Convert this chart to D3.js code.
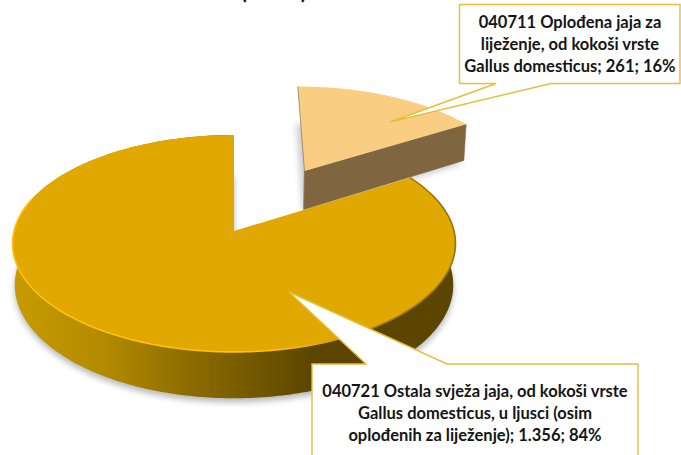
<!DOCTYPE html>
<html><head><meta charset="utf-8">
<style>html,body{margin:0;padding:0;background:#fff;overflow:hidden}svg{display:block}text{font-family:Lato,"Open Sans",sans-serif;font-weight:700;fill:#151515}</style>
<script src="https://cdnjs.cloudflare.com/ajax/libs/d3/7.8.5/d3.min.js"></script>
</head><body><svg id="c" width="681" height="455"></svg>
<script>
const categories = ["040711", "040721"];
const values = [261, 1356];
const explode = [0.685, 0];
const topColors = ["#F9CE82", "#E0A800"];
const labelA = ["040711 Oplođena jaja za", "liježenje, od kokoši vrste", "Gallus domesticus; 261; 16%"];
const labelB = ["040721 Ostala svježa jaja, od kokoši vrste", "Gallus domesticus, u ljusci (osim", "oplođenih za liježenje); 1.356; 84%"];
const titleTail = "(2021)";

const svg = d3.select("#c");
const defs = svg.append("defs");
const cx = 234, cy = 231, ax = 220, ay = 107, k = 0.115, depth = 41;

const blur = (id, s) => defs.append("filter").attr("id", id)
  .attr("x", "-20%").attr("y", "-20%").attr("width", "140%").attr("height", "140%")
  .append("feGaussianBlur").attr("stdDeviation", s);
blur("sh", 3); blur("b1", 0.7); blur("b0", 0.35);

const wall = defs.append("linearGradient").attr("id", "wall").attr("gradientUnits", "userSpaceOnUse")
  .attr("x1", 12).attr("x2", 456).attr("y1", 0).attr("y2", 0);
[[0, "#C89B00"], [0.2, "#B48B00"], [0.4, "#8C6C00"], [0.68, "#5B4500"], [1, "#5B4500"]]
  .forEach(s => wall.append("stop").attr("offset", s[0]).attr("stop-color", s[1]));
const rim = defs.append("linearGradient").attr("id", "rim").attr("gradientUnits", "userSpaceOnUse")
  .attr("x1", 12).attr("x2", 456).attr("y1", 0).attr("y2", 0);
[[0, "#FFC20A"], [0.62, "#FFC20A"], [0.72, "#D9A300"], [0.8, "#A88000"], [1, "#94720A"]]
  .forEach(s => rim.append("stop").attr("offset", s[0]).attr("stop-color", s[1]));

const arcs = d3.pie().sort(null).value(d => d)(values);
const line = d3.line();

// perspective projection of a unit-circle point on the pie's top or bottom plane
function P(u, v, low, dx) {
  const w = 1 + k * v;
  let X = ax * u / w, Y = -ay * v / w;
  if (low) { X *= 0.99; Y += depth / w; }
  return [cx + X + (dx || 0), cy + Y];
}
function rimPts(a, e, low, dx) {
  const mid = (a.startAngle + a.endAngle) / 2;
  const ou = e * Math.sin(mid), ov = e * Math.cos(mid);
  const n = Math.ceil((a.endAngle - a.startAngle) * 60);
  return d3.range(n + 1).map(i => {
    const t = a.startAngle + (a.endAngle - a.startAngle) * i / n;
    return P(ou + Math.sin(t), ov + Math.cos(t), low, dx);
  });
}
function apex(a, e, low, dx) {
  const mid = (a.startAngle + a.endAngle) / 2;
  return P(e * Math.sin(mid), e * Math.cos(mid), low, dx);
}
const closed = pts => line(pts) + "Z";

// title tail, cut by the top of the picture
svg.append("text").attr("x", 274).attr("y", -1.5).attr("text-anchor", "middle")
  .attr("font-size", 22).attr("letter-spacing", 0.6).text(titleTail);

// small exploded slice
const aS = arcs[0], eS = explode[0], dS = 2;
const sTop = rimPts(aS, eS, false, dS), sLow = rimPts(aS, eS, true, dS);
const sApex = apex(aS, eS, false, dS), sApexL = apex(aS, eS, true, dS);
svg.append("path").attr("d", closed([sApexL, ...sLow])).attr("transform", "translate(-1,3)")
  .attr("fill", "#000").attr("opacity", 0.2).attr("filter", "url(#sh)");
svg.append("path").attr("d", closed([sApex, sTop[sTop.length - 1], sLow[sLow.length - 1], sApexL]))
  .attr("fill", "#7F6640").attr("stroke", "#7F6640").attr("stroke-width", 0.6);
svg.append("path").attr("d", closed([sApex, ...sTop])).attr("fill", topColors[0]);
svg.append("path").attr("d", line([sTop[0], sApex, sApexL])).attr("fill", "none")
  .attr("stroke", "#8f7a55").attr("stroke-width", 1).attr("opacity", 0.75);

// large slice
const aB = arcs[1];
const bTop = rimPts(aB, 0, false), bLow = rimPts(aB, 0, true);
const bApex = apex(aB, 0, false), bApexL = apex(aB, 0, true);
svg.append("path").attr("d", closed([bApexL, ...bLow])).attr("transform", "translate(0,4)")
  .attr("fill", "#000").attr("opacity", 0.28).attr("filter", "url(#sh)");
svg.append("path").attr("d", closed([...bTop, ...bLow.slice().reverse()])).attr("fill", "url(#wall)");
svg.append("path").attr("d", closed([bApex, ...bTop])).attr("fill", topColors[1]);
// bevel along the rim: bright on the lit side, dark on the far side
svg.append("path").attr("d", line(bTop.filter((p, i) => i < bTop.length * 0.76)))
  .attr("fill", "none").attr("stroke", "url(#rim)").attr("stroke-width", 1.6).attr("filter", "url(#b1)");

// callouts
function callout(box, pointerBase, tip, lines, baselines, mid) {
  const [l, t, r, b] = box;
  const inverted = tip[1] > b;
  const shape = inverted
    ? [[l, t], [r, t], [r, b], [pointerBase[1], b], tip, [pointerBase[0], b], [l, b]]
    : [[l, t], [pointerBase[0], t], tip, [pointerBase[1], t], [r, t], [r, b], [l, b]];
  svg.append("path").attr("d", closed(shape)).attr("fill", "#fff")
    .attr("stroke", "#E9BC3C").attr("stroke-width", 1.4).attr("stroke-linejoin", "miter");
  svg.append("g").selectAll("text").data(lines).join("text")
    .attr("x", mid).attr("y", (d, i) => baselines[i]).attr("text-anchor", "middle")
    .attr("font-size", 16.5).text(d => d);
}
callout([459.5, 4.5, 680, 83.5], [496, 551], [390, 122], labelA, [28, 50, 72], 570);
callout([312, 364, 638, 470], [366, 447], [289, 292], labelB, [397, 419, 441], 475);
</script></body></html>
